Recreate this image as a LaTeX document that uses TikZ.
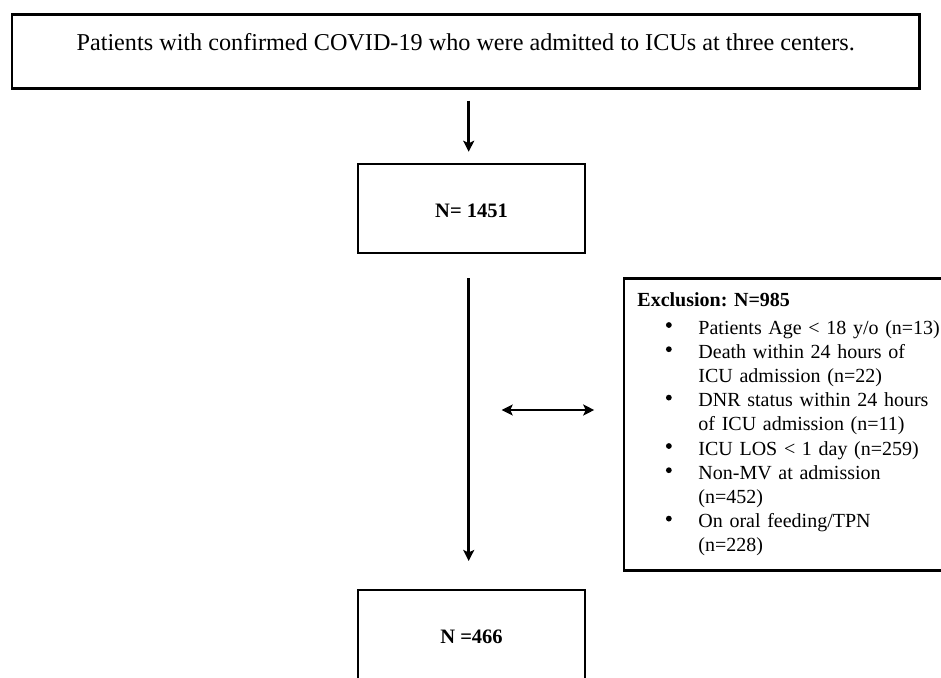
\documentclass[tikz,border=0pt]{standalone}
\usepackage{fontspec}
\setmainfont{Liberation Serif}
\usetikzlibrary{arrows.meta}
\newcommand\bul{\makebox[61pt][l]{\hspace{28.5pt}\tikz[x=1pt,y=1pt,baseline=0pt]\fill[black] (2.9,9) circle[radius=2.9pt];}}
\newcommand\ind{\hspace*{61pt}}
\begin{document}
\frenchspacing
\begin{tikzpicture}[x=1pt,y=-1pt,
  box/.style={draw=black,line width=2.5pt,inner sep=0pt},
  arr/.style={line width=2.8pt,-{Stealth[length=11pt,width=11pt,inset=2.5pt]}},
  darr/.style={line width=2.8pt,{Stealth[length=11pt,width=11pt,inset=2.5pt]}-{Stealth[length=11pt,width=11pt,inset=2.5pt]}}]
\useasboundingbox (0,0) rectangle (941,677);
\node[box,minimum width=907.5pt,minimum height=73.5pt,text height=16.5pt,text depth=18pt,font=\fontsize{24.2}{28}\selectfont] (top) at (465.7,51.5)
  {Patients with confirmed COVID-19 who were admitted to ICUs at three centers.};
\node[box,minimum width=226.6pt,minimum height=89pt,text height=17pt,text depth=0pt,font=\fontsize{20.5}{24}\selectfont\bfseries] (b1) at (471.5,208.5) {N= 1451};
\node[box,minimum width=226.6pt,minimum height=89pt,text height=17pt,text depth=0pt,font=\fontsize{20.5}{24}\selectfont\bfseries] (b2) at (471.5,634.7) {N =466};
\node[box,anchor=west,minimum height=292pt,text width=330pt,align=left,inner xsep=13.5pt,font=\fontsize{20}{24.2}\selectfont] (excl) at (622.7,424.5)
  {\textbf{Exclusion: N=985}\\[3pt]
   \bul Patients Age < 18 y/o (n=13)\\
   \bul Death within 24 hours of\\
   \ind ICU admission (n=22)\\
   \bul DNR status within 24 hours\\
   \ind of ICU admission (n=11)\\
   \bul ICU LOS < 1 day (n=259)\\
   \bul Non-MV at admission\\
   \ind (n=452)\\
   \bul On oral feeding/TPN\\
   \ind (n=228)};
\coordinate (ax) at (468.7,0);
\coordinate (mid) at (468.7,410);
\draw[arr,shorten <=11pt,shorten >=11pt] (ax |- top.south) -- (ax |- b1.north);
\draw[arr,shorten <=24pt,shorten >=28pt] (ax |- b1.south) -- (ax |- b2.north);
\draw[darr,shorten <=33pt,shorten >=28.5pt] (mid) -- (mid -| excl.west);
\end{tikzpicture}
\end{document}
